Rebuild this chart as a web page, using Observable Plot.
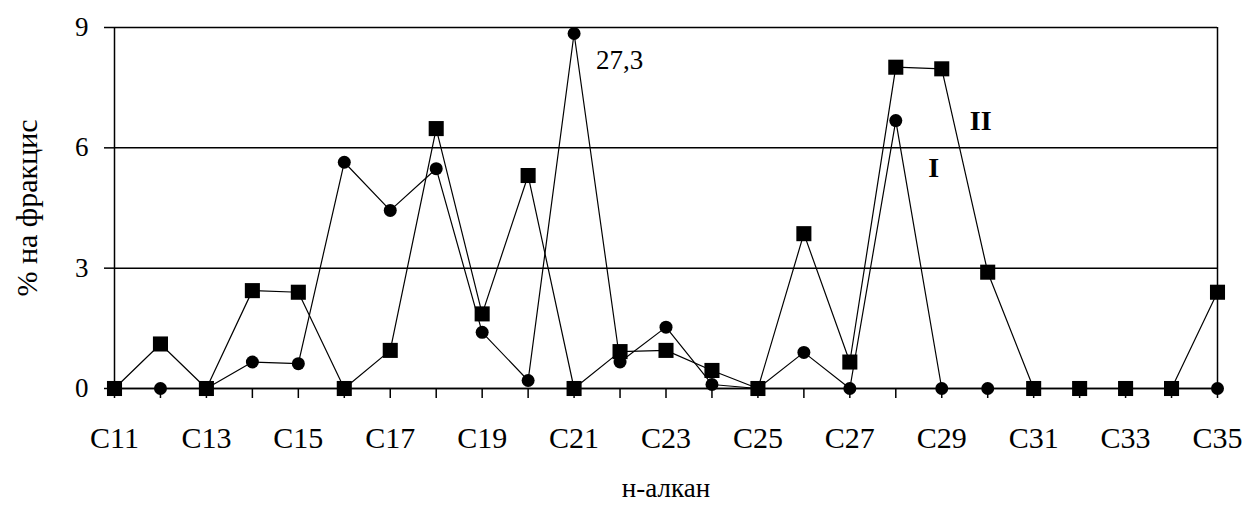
<!DOCTYPE html>
<html><head><meta charset="utf-8">
<script src="https://cdn.jsdelivr.net/npm/d3@7"></script>
<script src="https://cdn.jsdelivr.net/npm/@observablehq/plot@0.6"></script>
<style>
html,body{margin:0;padding:0;background:#fff;overflow:hidden}
svg{display:block}
svg text{font-family:"Liberation Serif","Times New Roman",serif !important}
</style>
</head><body><div id="chart"></div>
<script>
// n-alkane categories
const categories = ["C11","C12","C13","C14","C15","C16","C17","C18","C19","C20","C21","C22","C23","C24","C25","C26","C27","C28","C29","C30","C31","C32","C33","C34","C35"];
// Series I (circles) — C21 is drawn at the top of the axis, real value 27,3
const seriesI  = [0,0,0,0.66,0.62,5.64,4.44,5.48,1.40,0.20,8.85,0.66,1.53,0.10,0,0.90,0,6.68,0,0,0,0,0,0,0];
// Series II (squares)
const seriesII = [0,1.11,0,2.44,2.40,0,0.95,6.48,1.86,5.31,0,0.92,0.95,0.45,0,3.86,0.66,8.01,7.97,2.90,0,0,0,0,2.40];
const yTicks = [0,3,6,9];
const xTickLabels = ["C11","C13","C15","C17","C19","C21","C23","C25","C27","C29","C31","C33","C35"];
const yTitle = "% на фракцис";
const xTitle = "н-алкан";
const peakNote = [{cat:"C21", value:8.85, text:"27,3"}];
const labelII = [{cat:"C29", value:6.68, text:"II"}];
const labelI = [{cat:"C29", value:5.49, text:"I"}];

const dataI = categories.map((c,i)=>({cat:c, value:seriesI[i]}));
const dataII = categories.map((c,i)=>({cat:c, value:seriesII[i]}));
const font = "Liberation Serif";

const chart = Plot.plot({
  width:1248, height:505,
  marginLeft:114, marginRight:31, marginTop:27, marginBottom:117,
  style:{fontFamily:font, fontSize:"27px", color:"#000", background:"#fff", overflow:"visible"},
  x:{type:"point", domain:categories, padding:0, round:false},
  y:{domain:[0,9]},
  marks:[
    Plot.gridY(yTicks, {stroke:"#000", strokeOpacity:1, strokeWidth:1.5}),
    Plot.axisY(yTicks, {tickSize:10, tickPadding:16, label:null, strokeWidth:1.5, fontSize:27, fontFamily:font}),
    Plot.axisX(categories, {tickSize:10, tickPadding:28, label:null, strokeWidth:1.5, fontSize:30, fontFamily:font,
      tickFormat:d => xTickLabels.includes(d) ? d : ""}),
    Plot.ruleX([categories[0], categories[categories.length-1]], {stroke:"#000", strokeWidth:1.5}),
    Plot.ruleY([0], {stroke:"#000", strokeWidth:1.5}),
    Plot.line(dataI, {x:"cat", y:"value", stroke:"#000", strokeWidth:1.2}),
    Plot.dot(dataI, {x:"cat", y:"value", symbol:"circle", r:6.5, fill:"#000", stroke:"none"}),
    Plot.line(dataII, {x:"cat", y:"value", stroke:"#000", strokeWidth:1.2}),
    Plot.dot(dataII, {x:"cat", y:"value", symbol:"square", r:8.5, fill:"#000", stroke:"none"}),
    Plot.text(peakNote, {x:"cat", y:"value", text:"text", dx:22, dy:27, textAnchor:"start", fontSize:27, fontFamily:font, fill:"#000"}),
    Plot.text(labelII, {x:"cat", y:"value", text:"text", dx:39, fontSize:28, fontFamily:font, fontWeight:"bold", fill:"#000"}),
    Plot.text(labelI, {x:"cat", y:"value", text:"text", dx:-8, fontSize:28, fontFamily:font, fontWeight:"bold", fill:"#000"}),
    Plot.text([yTitle], {frameAnchor:"left", dx:-87, rotate:-90, textAnchor:"middle", lineAnchor:"middle", fontSize:30, fontFamily:font, fill:"#000"}),
    Plot.text([xTitle], {frameAnchor:"bottom", dy:100, textAnchor:"middle", lineAnchor:"middle", fontSize:27, fontFamily:font, fill:"#000"})
  ]
});
document.getElementById("chart").append(chart);
</script>
</body></html>
